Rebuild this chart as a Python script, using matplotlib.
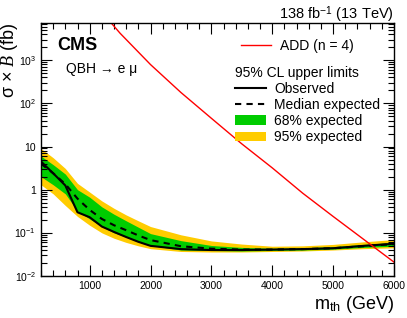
import matplotlib
matplotlib.use("Agg")
import matplotlib.pyplot as plt
import numpy as np
from matplotlib.lines import Line2D
from matplotlib.patches import Patch
from matplotlib.ticker import FixedLocator, LogLocator, FuncFormatter, MultipleLocator

plt.rcParams["font.family"] = ["Liberation Sans", "DejaVu Sans"]
plt.rcParams["mathtext.fontset"] = "custom"
plt.rcParams["mathtext.rm"] = "Liberation Sans"
plt.rcParams["mathtext.it"] = "Liberation Serif:italic"

# limits vs threshold mass
mass = [200, 400, 600, 800, 1000, 1200, 1400, 1600, 1800, 2000, 2500, 3000,
        3500, 4000, 4500, 5000, 5500, 6000]
observed = [4.5, 2.4, 1.25, 0.30, 0.23, 0.14, 0.105, 0.08, 0.062, 0.05, 0.042,
            0.040, 0.040, 0.041, 0.042, 0.044, 0.050, 0.056]
expected = [4.0, 2.4, 1.35, 0.62, 0.34, 0.21, 0.15, 0.115, 0.087, 0.068, 0.049,
            0.043, 0.041, 0.041, 0.042, 0.044, 0.049, 0.055]
band68_lo = [2.0, 1.3, 0.8, 0.32, 0.21, 0.14, 0.10, 0.08, 0.062, 0.051, 0.040,
             0.039, 0.038, 0.039, 0.040, 0.042, 0.046, 0.049]
band68_hi = [6.0, 3.8, 2.3, 1.0, 0.67, 0.40, 0.27, 0.19, 0.135, 0.096, 0.066,
             0.051, 0.046, 0.044, 0.045, 0.048, 0.054, 0.060]
band95_lo = [1.3, 0.8, 0.43, 0.24, 0.15, 0.10, 0.075, 0.06, 0.05, 0.043, 0.037,
             0.036, 0.036, 0.037, 0.038, 0.040, 0.043, 0.045]
band95_hi = [9.0, 5.5, 3.1, 1.4, 0.88, 0.55, 0.37, 0.26, 0.19, 0.14, 0.09,
             0.065, 0.055, 0.049, 0.050, 0.054, 0.062, 0.070]

# ADD n=4 cross section
add_mass = [1300, 1500, 2000, 2500, 3000, 3500, 4000, 4500, 5000, 5500, 6000]
add_xsec = [8900, 4200, 790, 178, 45, 11.5, 3.2, 0.83, 0.24, 0.071, 0.021]

fig = plt.figure(figsize=(4.07, 3.18), dpi=100)
ax = fig.add_axes([0.1007, 0.132, 0.8673, 0.796])

ax.fill_between(mass, band95_lo, band95_hi, color="#ffcc00", lw=0)
ax.fill_between(mass, band68_lo, band68_hi, color="#00cc00", lw=0)
ax.plot(mass, expected, color="black", ls=(0, (3, 2.5)), lw=1.5)
ax.plot(mass, observed, color="black", lw=1.5)
ax.plot(add_mass, add_xsec, color="red", lw=1)

ax.set_yscale("log")
ax.set_xlim(200, 6000)
ax.set_ylim(1e-2, 7.3e3)

ax.xaxis.set_major_locator(FixedLocator([1000, 2000, 3000, 4000, 5000, 6000]))
ax.xaxis.set_minor_locator(MultipleLocator(200))
ax.yaxis.set_major_locator(LogLocator(base=10, numticks=20))
ax.yaxis.set_minor_locator(LogLocator(base=10, subs=np.arange(2, 10), numticks=20))


def ylab(v, pos):
    e = int(round(np.log10(v)))
    if e == 0:
        return "1"
    if e == 1:
        return "10"
    return r"10$^{%d}$" % e


ax.yaxis.set_major_formatter(FuncFormatter(ylab))
ax.tick_params(which="both", direction="in", top=True, right=True, labelsize=7.5,
               width=0.8)
ax.tick_params(which="major", length=8)
ax.tick_params(which="minor", length=4)
for s in ax.spines.values():
    s.set_linewidth(1)

ax.set_xlabel(r"m$_{\rm th}$ (GeV)", fontsize=13, loc="right", labelpad=2)
ax.set_ylabel(r"σ × $\mathit{B}$ (fb)", fontsize=13, loc="top")
ax.yaxis.set_label_coords(-0.06, 1.0)

fig.text(0.968, 0.94, r"138 fb$^{-1}$ (13 TeV)", ha="right", va="baseline",
         fontsize=10.5)
ax.text(0.045, 0.945, "CMS", transform=ax.transAxes, fontsize=13,
        fontweight="bold", va="top")
ax.text(0.07, 0.845, "QBH → e μ", transform=ax.transAxes,
        fontsize=10, va="top")

leg1 = ax.legend(handles=[Line2D([], [], color="red", lw=1)],
                 labels=["ADD (n = 4)"], loc="upper left",
                 bbox_to_anchor=(0.55, 0.96), frameon=False, fontsize=10,
                 handlelength=2.2, handletextpad=0.6, borderaxespad=0)
ax.add_artist(leg1)
handles = [Line2D([], [], color="black", lw=1.5),
           Line2D([], [], color="black", lw=1.5, ls=(0, (3, 2.5))),
           Patch(color="#00cc00", lw=0),
           Patch(color="#ffcc00", lw=0)]
labels = ["Observed", "Median expected", "68% expected", "95% expected"]
ax.legend(handles=handles, labels=labels, loc="upper left",
          bbox_to_anchor=(0.55, 0.83), frameon=False, fontsize=10,
          title="95% CL upper limits", title_fontsize=10, alignment="left",
          handlelength=2.2, handletextpad=0.6, labelspacing=0.15,
          borderaxespad=0, borderpad=0)

fig.savefig("out.png", dpi=100)
